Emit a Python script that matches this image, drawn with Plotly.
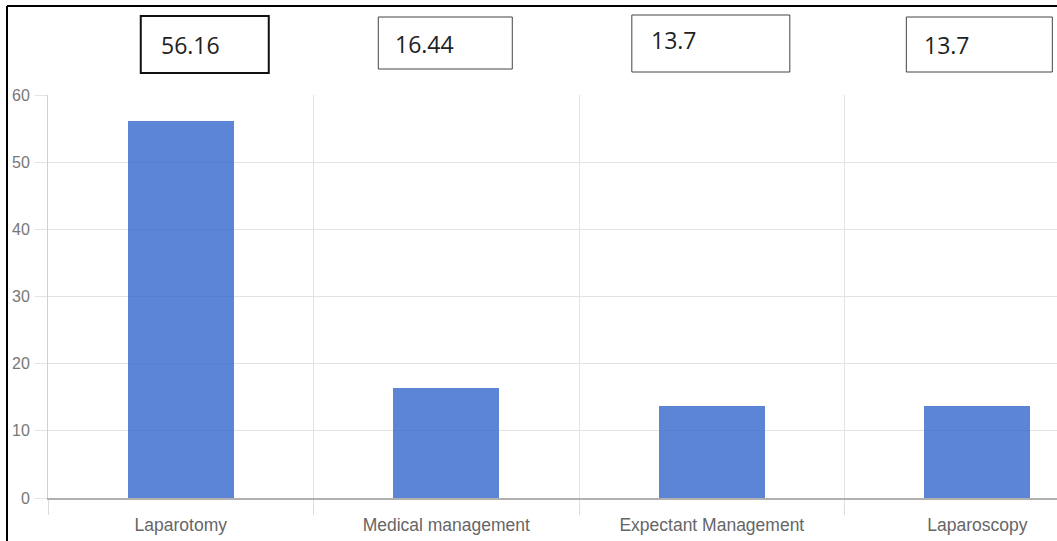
import plotly.graph_objects as go

categories = ["Laparotomy", "Medical management", "Expectant Management", "Laparoscopy"]
values = [56.16, 16.44, 13.7, 13.7]
box_labels = ["56.16", "16.44", "13.7", "13.7"]
y_ticks = [0, 10, 20, 30, 40, 50, 60]

# layout-only styling for the boxes above the chart (pixels relative to category centre / plot top)
box_left = [-40, -68, -80, -71]
box_right = [88, 66, 78, 75]
box_top = [16, 17, 15, 17]
box_bottom = [73, 69, 72, 72]
box_border = [2, 1, 1, 1]
text_left = [-22, -53, -63, -55]
text_mid = [45, 44, 40, 45]

W, H = 1057, 541
L, R, T, B = 48, 0, 95, 43
pw, ph = W - L - R, H - T - B

xs = list(range(len(categories)))

fig = go.Figure()
fig.add_trace(go.Bar(
    x=xs, y=values, width=0.4,
    marker=dict(color="rgba(51,102,204,0.8)", line=dict(width=0)),
    hoverinfo="skip",
))

annotations = []
for i, lab in enumerate(box_labels):
    fig.add_shape(
        type="rect", xref="x", yref="paper", xsizemode="pixel", ysizemode="pixel",
        xanchor=xs[i], yanchor=1,
        x0=box_left[i], x1=box_right[i], y0=T - box_bottom[i], y1=T - box_top[i],
        line=dict(color="#111" if box_border[i] == 2 else "#444", width=box_border[i]),
        fillcolor="rgba(0,0,0,0)",
    )
    annotations.append(dict(
        x=xs[i], xref="x", y=1, yref="paper",
        xanchor="left", yanchor="middle", xshift=text_left[i], yshift=T - text_mid[i],
        text=lab, showarrow=False,
        font=dict(family="Open Sans", size=23, color="#222"),
    ))
fig.update_layout(annotations=annotations)

# outer frame (left and top lines)
fig.add_shape(type="line", xref="paper", yref="paper",
              x0=(7 - L) / pw, x1=(7 - L) / pw, y0=(H - B - 6) / ph, y1=(H - B - H) / ph,
              line=dict(color="black", width=2))
fig.add_shape(type="line", xref="paper", yref="paper",
              x0=(7 - L) / pw, x1=(W - L) / pw, y0=(H - B - 6) / ph, y1=(H - B - 6) / ph,
              line=dict(color="black", width=2))

fig.update_layout(
    width=W, height=H,
    margin=dict(l=L, r=R, t=T, b=B, pad=0),
    plot_bgcolor="white", paper_bgcolor="white",
    showlegend=False,
    bargap=0,
    xaxis=dict(
        range=[-0.5, 3.3],
        tickmode="array", tickvals=xs, ticktext=categories,
        ticks="", showgrid=False, zeroline=False,
        showline=True, linecolor="#b0b0b0", linewidth=2,
        tickfont=dict(family="Liberation Sans", size=17.5, color="#666"),
        ticklabelstandoff=10,
        minor=dict(tickmode="linear", tick0=-0.5, dtick=1, showgrid=True,
                   gridcolor="#e3e3e3", gridwidth=1, ticks="outside",
                   ticklen=15, tickcolor="#dcdcdc", tickwidth=1),
    ),
    yaxis=dict(
        range=[0, 60], tickmode="array", tickvals=y_ticks,
        ticks="outside", ticklen=12, tickcolor="#e3e3e3",
        showgrid=True, gridcolor="#e3e3e3", gridwidth=1,
        zeroline=False, showline=True, linecolor="#d0d0d0", linewidth=1,
        tickfont=dict(family="Liberation Sans", size=16, color="#777"),
        ticklabelstandoff=2,
    ),
)

fig.write_html("out.html")
